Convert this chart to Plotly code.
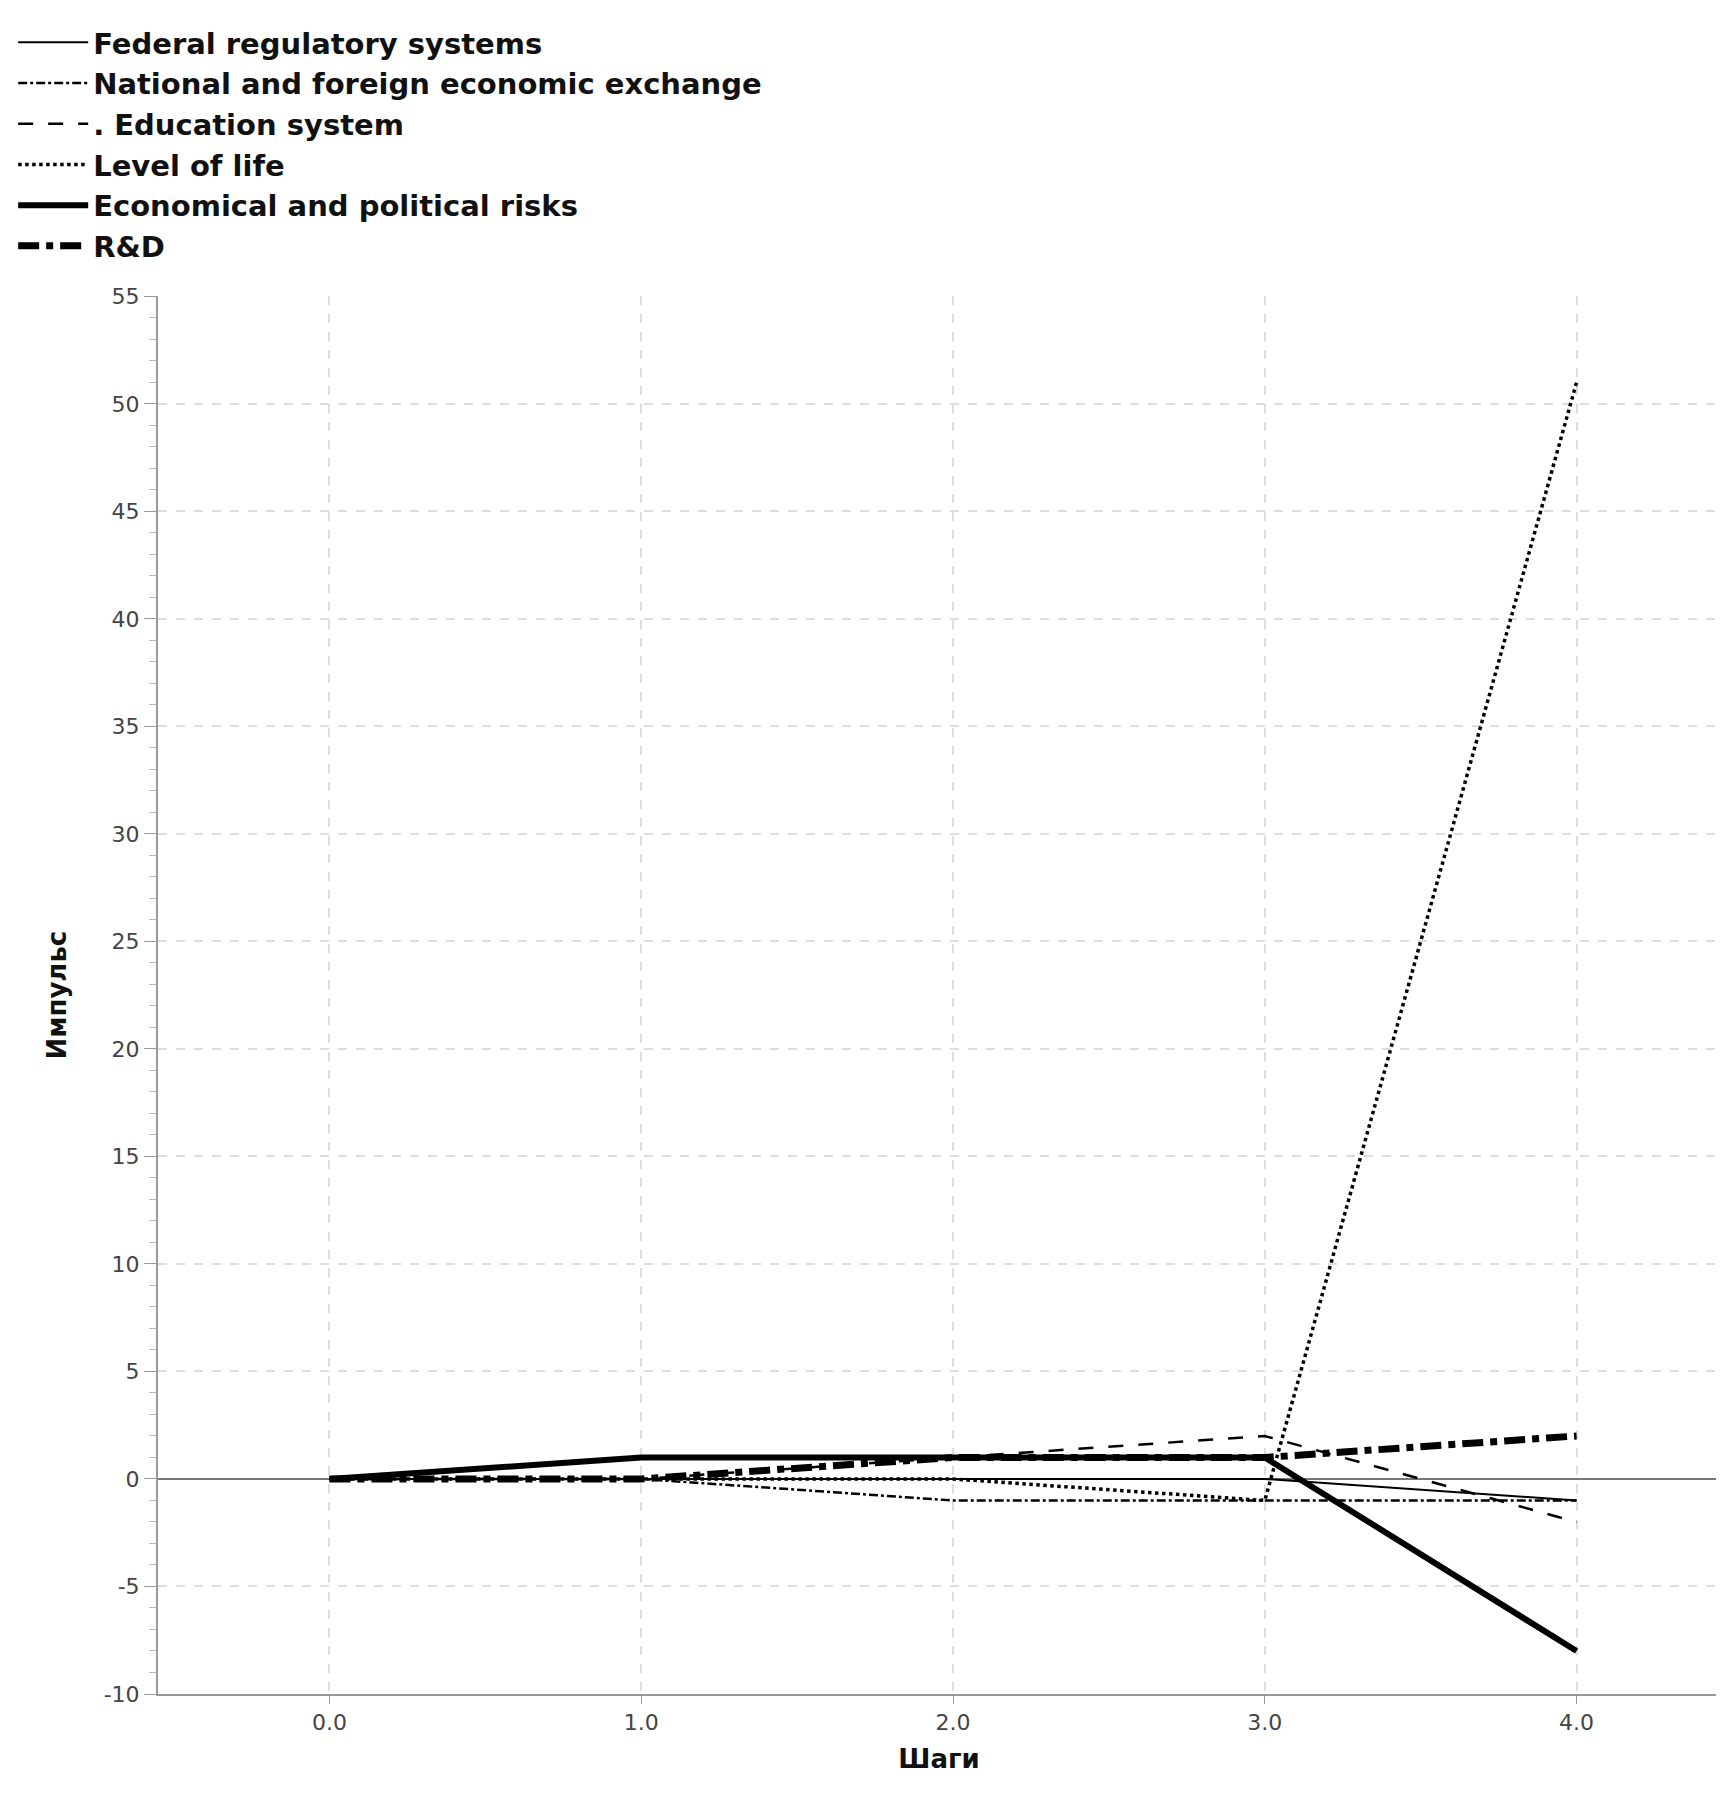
import plotly.graph_objects as go

steps = [0.0, 1.0, 2.0, 3.0, 4.0]
names = ["Federal regulatory systems", "National and foreign economic exchange",
         ". Education system", "Level of life",
         "Economical and political risks", "R&D"]
federal = [0, 0, 0, 0, -1]
national = [0, 0, -1, -1, -1]
education = [0, 0, 1, 2, -2]
level_of_life = [0, 0, 0, -1, 51]
risks = [0, 1, 1, 1, -8]
rnd = [0, 0, 1, 1, 2]
series = [federal, national, education, level_of_life, risks, rnd]
styles = [(2, "solid"), (2.5, "dashdot"), (2.5, "longdash"), (3.5, "dot"), (6, "solid"), (7, "dashdot")]
tick_vals = [0, 1, 2, 3, 4]
tick_text = ["0.0", "1.0", "2.0", "3.0", "4.0"]
y_vals = [-10, -5, 0, 5, 10, 15, 20, 25, 30, 35, 40, 45, 50, 55]
y_text = [str(v) for v in y_vals]

fig = go.Figure()
for n, s, (w, d) in zip(names, series, styles):
    fig.add_trace(go.Scatter(x=steps, y=s, name="<b>" + n + "</b>", mode="lines",
                             line=dict(color="black", width=w, dash=d)))

fnt = "DejaVu Sans"
fig.update_layout(
    width=1724, height=1802, paper_bgcolor="white", plot_bgcolor="white",
    margin=dict(l=150, r=12, t=199, b=116),
    font=dict(family=fnt, color="#222", size=20),
    legend=dict(orientation="h", x=0.003, y=0.995, xanchor="left", yanchor="top",
                xref="container", yref="container", entrywidth=790, entrywidthmode="pixels",
                font=dict(size=29, family=fnt, color="#111"), traceorder="normal",
                itemwidth=70, tracegroupgap=0),
    showlegend=True,
)
fig.update_xaxes(range=[-0.55, 4.46], tickvals=tick_vals, ticktext=tick_text,
                 showgrid=True, gridcolor="#ddd", griddash="dash", gridwidth=1.5,
                 showline=True, linecolor="#999", linewidth=2, zeroline=False,
                 ticks="outside", tickcolor="#999", ticklen=8,
                 tickfont=dict(size=22, color="#444"),
                 title=dict(text="<b>Шаги</b>", font=dict(size=26, color="#111"), standoff=15))
fig.update_yaxes(range=[-10, 55], tickvals=y_vals, ticktext=y_text, showgrid=True,
                 gridcolor="#ddd", griddash="dash",
                 gridwidth=1.5, showline=True, linecolor="#999", linewidth=2,
                 zeroline=True, zerolinecolor="#777", zerolinewidth=1.5,
                 ticks="outside", tickcolor="#999", ticklen=12,
                 minor=dict(dtick=1, ticks="outside", ticklen=7, tickcolor="#bbb", showgrid=False),
                 tickfont=dict(size=22, color="#444"),
                 title=dict(text="<b>Импульс</b>", font=dict(size=26, color="#111"), standoff=30))
fig.write_html("out.html")
